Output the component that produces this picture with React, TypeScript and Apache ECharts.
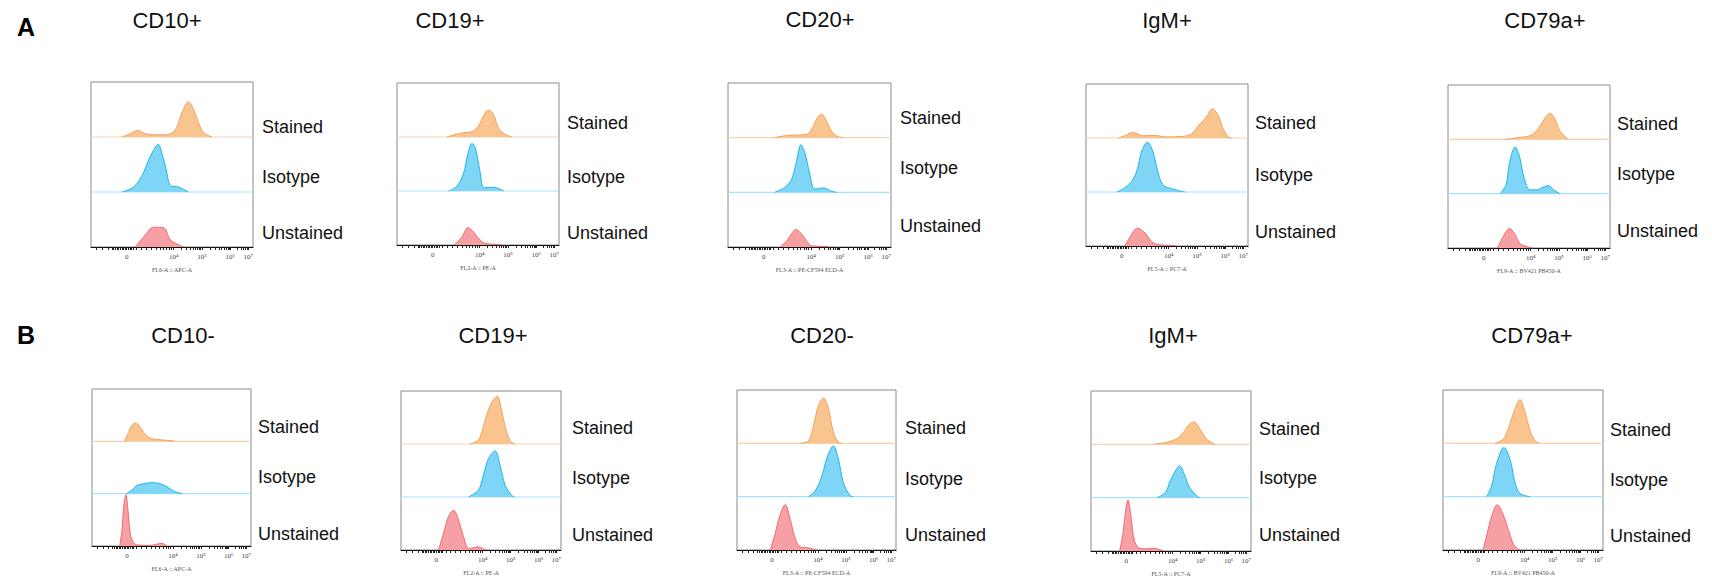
import React, { useEffect, useRef } from 'react';
import * as echarts from 'echarts';

// ---------- categories / texts ----------
const PANEL_TITLES = ['CD10+', 'CD19+', 'CD20+', 'IgM+', 'CD79a+', 'CD10-', 'CD19+', 'CD20-', 'IgM+', 'CD79a+'];
const AXIS_NAMES = [
  'FL6-A :: APC-A', 'FL2-A :: PE-A', 'FL3-A :: PE-CF594 ECD-A', 'FL5-A :: PC7-A', 'FL9-A :: BV421 PB450-A',
  'FL6-A :: APC-A', 'FL2-A :: PE-A', 'FL3-A :: PE-CF594 ECD-A', 'FL5-A :: PC7-A', 'FL9-A :: BV421 PB450-A',
];
const BAND_LABELS = ['Stained', 'Isotype', 'Unstained'];
const ROW_LETTERS = ['A', 'B'];

// ---------- x axis ticks (display scale 0..100) ----------
const TICK_POSITIONS = [22, 51, 68.5, 86, 97];
const TICK_LABELS = ['0', '10⁴', '10⁵', '10⁶', '10⁷'];
const MINOR_TICKS = [3, 7, 10.5, 13, 14, 15, 16, 17, 18, 19, 20, 21, 22, 23, 24, 25, 26, 28, 31, 34, 37, 40, 42.5,
  44.5, 46.5, 48, 49.5, 51, 56, 59, 61.5, 63, 64.5, 65.8, 66.8, 67.7, 68.5, 73.5, 77, 79, 80.5, 82, 83.5, 84.5,
  85.3, 86, 90, 92.5, 94, 95.3, 96.2, 97];

// ---------- histogram values: [position, relative count] ----------
const A1_STAINED = [[19.1, 0], [24.3, 0.06], [28.8, 0.12], [33.5, 0.06], [39.7, 0.04], [45.9, 0.04], [50.2, 0.08], [53, 0.18], [56.2, 0.45], [60.2, 0.64], [63.3, 0.5], [66.4, 0.26], [69.5, 0.08], [74.7, 0]];
const A1_ISOTYPE = [[19.1, 0], [26.3, 0.09], [31.5, 0.3], [35.6, 0.58], [38.6, 0.76], [41.4, 0.87], [43.8, 0.7], [46.5, 0.4], [49, 0.12], [54, 0.09], [60.2, 0]];
const A1_UNSTAINED = [[27.3, 0], [33.5, 0.22], [38.6, 0.36], [44.8, 0.35], [49, 0.13], [54, 0.04], [57.2, 0]];

const A2_STAINED = [[30.8, 0], [39, 0.07], [47.2, 0.11], [51.3, 0.26], [54.4, 0.45], [56.5, 0.5], [59.5, 0.42], [62.6, 0.17], [66.7, 0.05], [70.9, 0]];
const A2_ISOTYPE = [[31.8, 0], [37, 0.09], [41.1, 0.33], [43.6, 0.67], [46.3, 0.88], [48.3, 0.8], [51, 0.4], [53.9, 0.06], [59.6, 0.07], [65.8, 0]];
const A2_UNSTAINED = [[35.3, 0], [40.1, 0.15], [43.8, 0.32], [47.3, 0.24], [50.4, 0.12], [54.5, 0.03], [62.7, 0.01], [65, 0]];

const A3_STAINED = [[28.7, 0], [35.9, 0.04], [48.2, 0.06], [52.3, 0.21], [54.7, 0.36], [57.4, 0.43], [60, 0.33], [63.5, 0.12], [66.6, 0.03], [70.7, 0]];
const A3_ISOTYPE = [[28.7, 0], [34.8, 0.09], [39, 0.24], [42.1, 0.58], [44.7, 0.87], [47.1, 0.73], [50.2, 0.33], [53.3, 0.06], [58.4, 0.08], [63.5, 0.02], [66.6, 0]];
const A3_UNSTAINED = [[31.8, 0], [36.3, 0.12], [39.6, 0.27], [41.6, 0.32], [45.1, 0.24], [48.2, 0.11], [51.3, 0.02], [60.5, 0.01], [62, 0]];

const A4_STAINED = [[20, 0], [24.5, 0.05], [28.9, 0.1], [35.4, 0.04], [41.6, 0.05], [49.8, 0.02], [60, 0.03], [65.2, 0.08], [70.3, 0.26], [74.4, 0.39], [77.9, 0.54], [81.6, 0.42], [84.6, 0.17], [87.7, 0.02], [89.8, 0]];
const A4_ISOTYPE = [[19, 0], [24.1, 0.08], [28.3, 0.2], [31.7, 0.42], [34.4, 0.76], [37.9, 0.92], [41.2, 0.76], [44, 0.42], [47.3, 0.14], [52.9, 0.06], [61.1, 0]];
const A4_UNSTAINED = [[24.1, 0], [27.2, 0.17], [31.7, 0.33], [36.5, 0.24], [40.6, 0.08], [45.7, 0.02], [53.9, 0.01], [56, 0]];

const A5_STAINED = [[35.3, 0], [42.5, 0.03], [51.7, 0.08], [56.9, 0.25], [60, 0.4], [63, 0.48], [66.1, 0.37], [69.2, 0.15], [74.3, 0]];
const A5_ISOTYPE = [[32.2, 0], [35.9, 0.17], [38, 0.57], [41.5, 0.86], [44.1, 0.69], [47, 0.29], [50.7, 0.07], [54.8, 0.07], [58.9, 0.12], [62, 0.15], [65.1, 0.07], [69.2, 0]];
const A5_UNSTAINED = [[30.6, 0], [33.9, 0.2], [38, 0.36], [41.5, 0.24], [44.5, 0.08], [50.7, 0.01], [53, 0]];

const B1_STAINED = [[20.3, 0], [23, 0.17], [25.1, 0.31], [27.2, 0.35], [29.4, 0.31], [32.5, 0.17], [36.7, 0.06], [43, 0.03], [50.3, 0.01], [52, 0]];
const B1_ISOTYPE = [[21.6, 0], [25.2, 0.07], [28.3, 0.16], [32.5, 0.19], [37.7, 0.21], [43, 0.19], [47.2, 0.13], [51.3, 0.05], [56.6, 0]];
const B1_UNSTAINED = [[17.4, 0], [18.9, 0.31], [19.9, 0.75], [21.4, 0.98], [22.6, 0.69], [24.1, 0.24], [25.8, 0.08], [28.3, 0.02], [36, 0.01], [40, 0.03], [44, 0.05], [47, 0]];

const B2_STAINED = [[43.2, 0], [48.4, 0.08], [51.5, 0.33], [54.6, 0.64], [57.8, 0.84], [60.3, 0.9], [62.4, 0.7], [65.1, 0.33], [68.2, 0.06], [71.3, 0]];
const B2_ISOTYPE = [[42.2, 0], [48.4, 0.13], [51.5, 0.41], [54.6, 0.72], [58.8, 0.87], [61.9, 0.6], [65.1, 0.22], [69.2, 0.03], [71, 0]];
const B2_UNSTAINED = [[23.5, 0], [26.6, 0.32], [29.7, 0.63], [32.8, 0.75], [35.9, 0.57], [39.1, 0.25], [42.2, 0.03], [45, 0.04], [48.4, 0.06], [52.6, 0]];

const B3_STAINED = [[39.7, 0], [45, 0.05], [48.1, 0.33], [51.2, 0.71], [54.4, 0.85], [57.5, 0.65], [60.6, 0.21], [63.8, 0.02], [66, 0]];
const B3_ISOTYPE = [[45, 0], [49.2, 0.11], [53.4, 0.39], [56.9, 0.76], [60.6, 0.95], [63.8, 0.7], [66.9, 0.26], [71.1, 0.02], [73, 0]];
const B3_UNSTAINED = [[20.9, 0], [24, 0.31], [26.8, 0.63], [30.3, 0.85], [33.5, 0.57], [36.6, 0.22], [39.7, 0.06], [45, 0.04], [50.2, 0]];

const B4_STAINED = [[39.2, 0], [47.5, 0.04], [53.8, 0.11], [57.9, 0.23], [61, 0.36], [64.6, 0.42], [68.3, 0.28], [72.5, 0.09], [77.7, 0]];
const B4_ISOTYPE = [[41.3, 0], [46.5, 0.1], [49.6, 0.32], [52.7, 0.5], [55.4, 0.6], [58.3, 0.44], [61.6, 0.19], [66.3, 0.03], [68, 0]];
const B4_UNSTAINED = [[17.9, 0], [20, 0.33], [21.4, 0.7], [23.1, 0.96], [25, 0.64], [27.1, 0.2], [30.4, 0.05], [35, 0.04], [39.1, 0.05], [45.4, 0]];

const B5_STAINED = [[32.4, 0], [37.7, 0.08], [41.4, 0.33], [45, 0.65], [48.1, 0.82], [51.3, 0.58], [54.4, 0.24], [57.6, 0.05], [60.7, 0]];
const B5_ISOTYPE = [[27.2, 0], [30.4, 0.2], [33.1, 0.58], [38.1, 0.92], [41.9, 0.7], [45, 0.26], [48.1, 0.06], [54.4, 0]];
const B5_UNSTAINED = [[25.1, 0], [27.6, 0.31], [30.4, 0.63], [33.9, 0.85], [37.3, 0.69], [40.8, 0.38], [44.4, 0.09], [48.1, 0]];

const PANEL_DATA = [
  [A1_STAINED, A1_ISOTYPE, A1_UNSTAINED],
  [A2_STAINED, A2_ISOTYPE, A2_UNSTAINED],
  [A3_STAINED, A3_ISOTYPE, A3_UNSTAINED],
  [A4_STAINED, A4_ISOTYPE, A4_UNSTAINED],
  [A5_STAINED, A5_ISOTYPE, A5_UNSTAINED],
  [B1_STAINED, B1_ISOTYPE, B1_UNSTAINED],
  [B2_STAINED, B2_ISOTYPE, B2_UNSTAINED],
  [B3_STAINED, B3_ISOTYPE, B3_UNSTAINED],
  [B4_STAINED, B4_ISOTYPE, B4_UNSTAINED],
  [B5_STAINED, B5_ISOTYPE, B5_UNSTAINED],
];

// ---------- layout (pixels) ----------
const LAYOUT = [
  { left: 91, top: 82, width: 162, height: 165, labelX: 262, labelY: [127, 177, 233], titleX: 167, titleY: 20 },
  { left: 397, top: 83, width: 162, height: 162, labelX: 567, labelY: [123, 177, 233], titleX: 450, titleY: 20 },
  { left: 728, top: 83, width: 163, height: 164, labelX: 900, labelY: [118, 168, 226], titleX: 820, titleY: 19 },
  { left: 1086, top: 84, width: 162, height: 162, labelX: 1255, labelY: [123, 175, 232], titleX: 1167, titleY: 20 },
  { left: 1448, top: 85, width: 162, height: 163, labelX: 1617, labelY: [124, 174, 231], titleX: 1545, titleY: 20 },
  { left: 92, top: 389, width: 159, height: 157, labelX: 258, labelY: [427, 477, 534], titleX: 183, titleY: 335 },
  { left: 401, top: 391, width: 160, height: 159, labelX: 572, labelY: [428, 478, 535], titleX: 493, titleY: 335 },
  { left: 737, top: 390, width: 159, height: 160, labelX: 905, labelY: [428, 479, 535], titleX: 822, titleY: 335 },
  { left: 1091, top: 391, width: 160, height: 160, labelX: 1259, labelY: [429, 478, 535], titleX: 1173, titleY: 335 },
  { left: 1443, top: 390, width: 160, height: 160, labelX: 1610, labelY: [430, 480, 536], titleX: 1532, titleY: 335 },
];
const ROW_LETTER_POS = [{ x: 17, y: 27 }, { x: 17, y: 335 }];

const STROKE = ['#F2A25C', '#1DB6EA', '#EE6A70'];
const FILL = ['#F9C48E', '#7ED5F5', '#F6A0A3'];
const BASE_LINE = ['#F8D2AC', '#A8E4F8'];

const SANS = '"Liberation Sans", Arial, Helvetica, sans-serif';
const SERIF = '"Liberation Serif", "DejaVu Serif", "Times New Roman", serif';

function buildOption() {
  const grid: any[] = [];
  const xAxis: any[] = [];
  const yAxis: any[] = [];
  const series: any[] = [];
  const graphic: any[] = [];

  LAYOUT.forEach((g, i) => {
    grid.push({
      left: g.left, top: g.top, width: g.width, height: g.height,
      show: true, borderColor: '#8a8a8a', borderWidth: 1, backgroundColor: 'transparent',
    });
    xAxis.push({
      gridIndex: i, type: 'value', min: 0, max: 100,
      axisLine: { show: true, onZero: false, lineStyle: { color: '#111', width: 1 } },
      splitLine: { show: false },
      axisTick: { show: true, customValues: MINOR_TICKS, length: 3, lineStyle: { color: '#222', width: 1 } },
      axisLabel: {
        show: true, customValues: TICK_POSITIONS, margin: 6, fontSize: 7, color: '#444', fontFamily: SERIF,
        formatter: (v: number) => {
          const k = TICK_POSITIONS.indexOf(v);
          return k >= 0 ? TICK_LABELS[k] : '';
        },
      },
      name: AXIS_NAMES[i], nameLocation: 'middle', nameGap: 20,
      nameTextStyle: { fontSize: 6, color: '#555', fontFamily: SERIF },
    });
    yAxis.push({ gridIndex: i, type: 'value', min: 0, max: 3, show: false });

    PANEL_DATA[i].forEach((hist, b) => {
      const base = 2 - b;
      if (b < 2) {
        series.push({
          type: 'line', xAxisIndex: i, yAxisIndex: i, symbol: 'none', silent: true,
          data: [[0, base], [100, base]],
          lineStyle: { color: BASE_LINE[b], width: 1.2 }, z: 1,
        });
      }
      series.push({
        type: 'line', xAxisIndex: i, yAxisIndex: i, symbol: 'none', silent: true,
        smooth: 0.35,
        data: hist.map(([x, h]) => [x, base + h]),
        lineStyle: { color: STROKE[b], width: 1 },
        areaStyle: { color: FILL[b], opacity: 1, origin: base },
        z: 2,
      });
    });

    graphic.push({
      type: 'text', x: g.titleX, y: g.titleY,
      style: { text: PANEL_TITLES[i], fontSize: 22, fontFamily: SANS, fill: '#111', textAlign: 'center', textVerticalAlign: 'middle' },
    });
    BAND_LABELS.forEach((lab, b) => {
      graphic.push({
        type: 'text', x: g.labelX, y: g.labelY[b],
        style: { text: lab, fontSize: 18, fontFamily: SANS, fill: '#111', textAlign: 'left', textVerticalAlign: 'middle' },
      });
    });
  });

  ROW_LETTERS.forEach((L, r) => {
    graphic.push({
      type: 'text', x: ROW_LETTER_POS[r].x, y: ROW_LETTER_POS[r].y,
      style: { text: L, fontSize: 25, fontWeight: 'bold', fontFamily: SANS, fill: '#000', textAlign: 'left', textVerticalAlign: 'middle' },
    });
  });

  return {
    animation: false,
    backgroundColor: '#ffffff',
    grid, xAxis, yAxis, series, graphic,
  };
}

export default function App() {
  const ref = useRef<HTMLDivElement>(null);
  useEffect(() => {
    if (!ref.current) return;
    const chart = echarts.init(ref.current, null, { renderer: 'svg' });
    chart.setOption(buildOption() as any);
    return () => chart.dispose();
  }, []);
  return <div ref={ref} style={{ position: 'fixed', left: 0, top: 0, width: 1712, height: 584 }} />;
}
